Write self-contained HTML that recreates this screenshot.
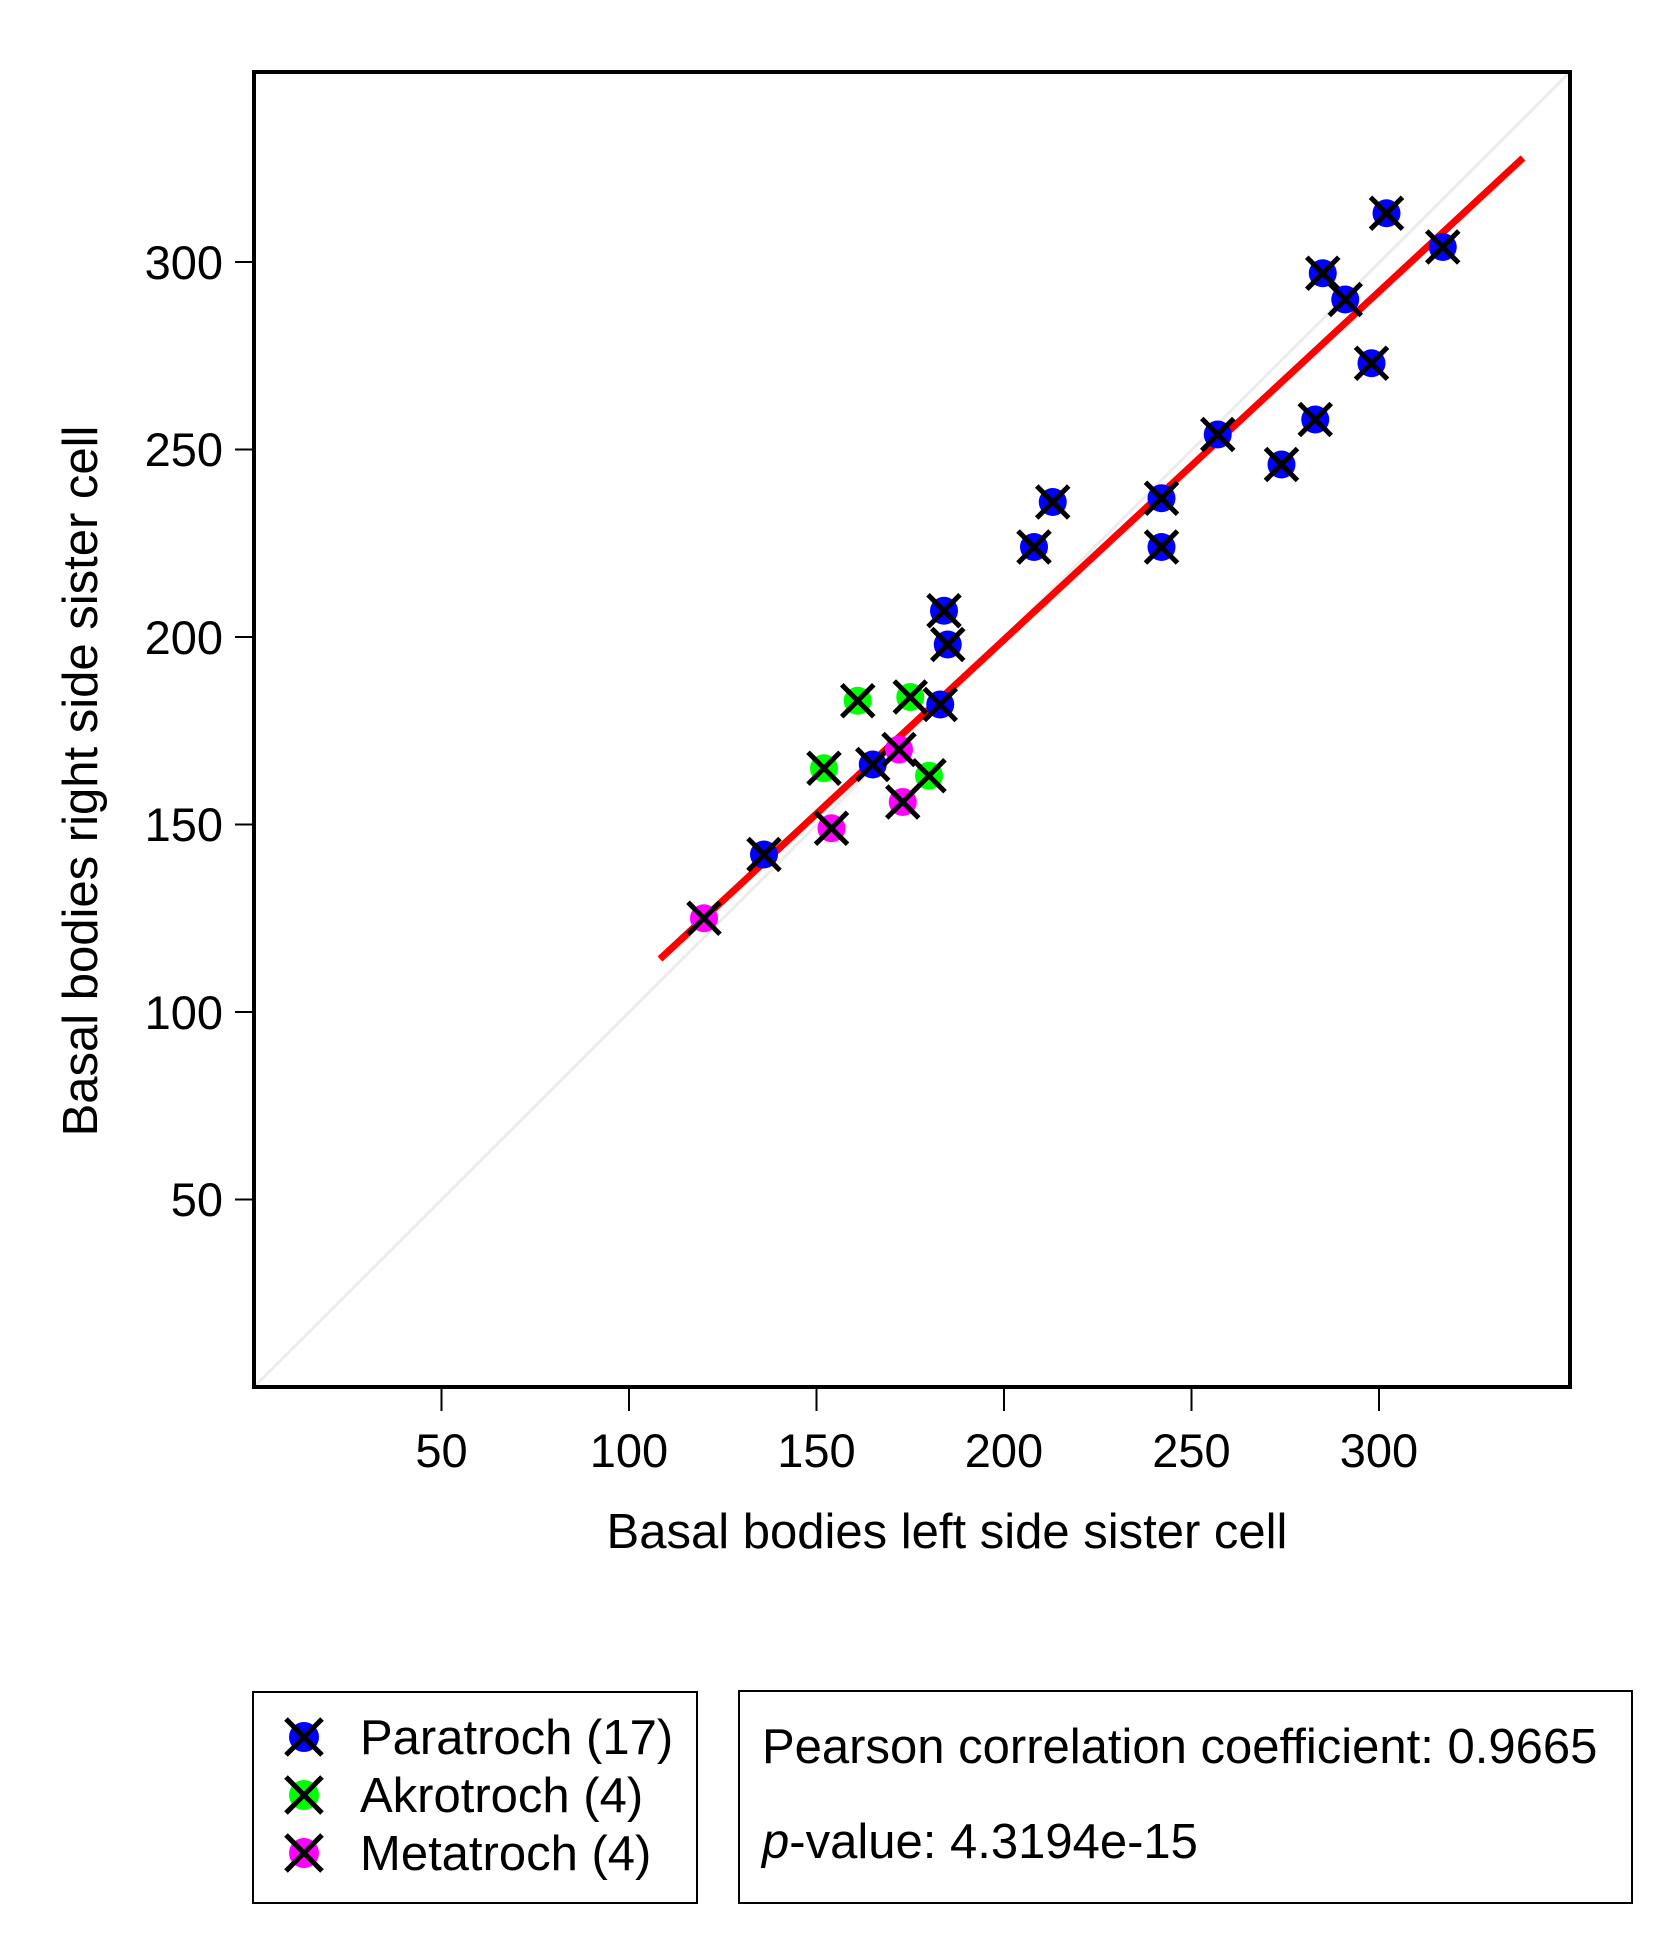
<!DOCTYPE html>
<html><head><meta charset="utf-8"><style>html,body{margin:0;padding:0;background:#fff}svg{display:block}text{font-family:"Liberation Sans",Arial,sans-serif;fill:#000}</style></head>
<body>
<svg width="1659" height="1941" viewBox="0 0 1659 1941" xmlns="http://www.w3.org/2000/svg">
<defs>
<g id="x"><path d="M-16,-16L16,16M-16,16L16,-16" stroke="#000" stroke-width="5" fill="none"/></g>
<g id="b"><circle r="14" fill="#0000ff"/><use href="#x"/></g>
<g id="g"><circle r="14" fill="#00ff00"/><use href="#x"/></g>
<g id="m"><circle r="14" fill="#ff00ff"/><use href="#x"/></g>
</defs>
<line x1="254" y1="1387" x2="1570" y2="72" stroke="#ececec" stroke-width="3"/>
<line x1="660" y1="959" x2="1523" y2="158" stroke="#ff0000" stroke-width="7"/>
<use href="#b" x="1386.5" y="213.25"/>
<use href="#b" x="1442.75" y="247"/>
<use href="#b" x="1322.75" y="273.25"/>
<use href="#b" x="1345.25" y="299.5"/>
<use href="#b" x="1371.5" y="363.25"/>
<use href="#b" x="1315.25" y="419.5"/>
<use href="#b" x="1217.75" y="434.5"/>
<use href="#b" x="1281.5" y="464.5"/>
<use href="#b" x="1161.5" y="498.25"/>
<use href="#b" x="1052.75" y="502"/>
<use href="#b" x="1034" y="547"/>
<use href="#b" x="1161.5" y="547"/>
<use href="#b" x="944" y="610.75"/>
<use href="#b" x="947.75" y="644.5"/>
<use href="#b" x="940.25" y="704.5"/>
<use href="#b" x="872.75" y="764.5"/>
<use href="#b" x="764" y="854.5"/>
<use href="#g" x="857.75" y="700.75"/>
<use href="#g" x="910.25" y="697"/>
<use href="#g" x="824" y="768.25"/>
<use href="#g" x="929" y="775.75"/>
<use href="#m" x="899" y="749.5"/>
<use href="#m" x="902.75" y="802"/>
<use href="#m" x="831.5" y="828.25"/>
<use href="#m" x="704" y="918.25"/>
<rect x="254" y="72" width="1316" height="1315" fill="none" stroke="#000" stroke-width="4"/>
<g stroke="#000" stroke-width="2">
<line x1="441.5" y1="1387" x2="441.5" y2="1411"/><line x1="629" y1="1387" x2="629" y2="1411"/><line x1="816.5" y1="1387" x2="816.5" y2="1411"/><line x1="1004" y1="1387" x2="1004" y2="1411"/><line x1="1191.5" y1="1387" x2="1191.5" y2="1411"/><line x1="1379" y1="1387" x2="1379" y2="1411"/>
<line x1="254" y1="262" x2="235" y2="262"/><line x1="254" y1="449.5" x2="235" y2="449.5"/><line x1="254" y1="637" x2="235" y2="637"/><line x1="254" y1="824.5" x2="235" y2="824.5"/><line x1="254" y1="1012" x2="235" y2="1012"/><line x1="254" y1="1199.5" x2="235" y2="1199.5"/>
</g>
<g font-size="47" text-anchor="middle">
<text x="441.5" y="1467">50</text><text x="629" y="1467">100</text><text x="816.5" y="1467">150</text><text x="1004" y="1467">200</text><text x="1191.5" y="1467">250</text><text x="1379" y="1467">300</text>
</g>
<g font-size="47" text-anchor="end">
<text x="223" y="279">300</text><text x="223" y="466">250</text><text x="223" y="654">200</text><text x="223" y="841">150</text><text x="223" y="1029">100</text><text x="223" y="1216">50</text>
</g>
<text x="947" y="1548" font-size="49" text-anchor="middle">Basal bodies left side sister cell</text>
<text transform="translate(97,781) rotate(-90)" font-size="49" text-anchor="middle">Basal bodies right side sister cell</text>
<rect x="253" y="1692" width="444" height="211" fill="none" stroke="#000" stroke-width="2"/>
<circle cx="304" cy="1737" r="15" fill="#0000ff"/><path d="M286,1719L322,1755M286,1755L322,1719" stroke="#000" stroke-width="5"/>
<circle cx="304" cy="1795" r="15" fill="#00ff00"/><path d="M286,1777L322,1813M286,1813L322,1777" stroke="#000" stroke-width="5"/>
<circle cx="304" cy="1853" r="15" fill="#ff00ff"/><path d="M286,1835L322,1871M286,1871L322,1835" stroke="#000" stroke-width="5"/>
<g font-size="49"><text x="360" y="1754">Paratroch (17)</text><text x="360" y="1812">Akrotroch (4)</text><text x="360" y="1870">Metatroch (4)</text></g>
<rect x="739" y="1691" width="893" height="212" fill="none" stroke="#000" stroke-width="2"/>
<text x="762" y="1763" font-size="49">Pearson correlation coefficient: 0.9665</text>
<text x="762" y="1858" font-size="49"><tspan font-style="italic">p</tspan>-value: 4.3194e-15</text>
</svg>
</body></html>
